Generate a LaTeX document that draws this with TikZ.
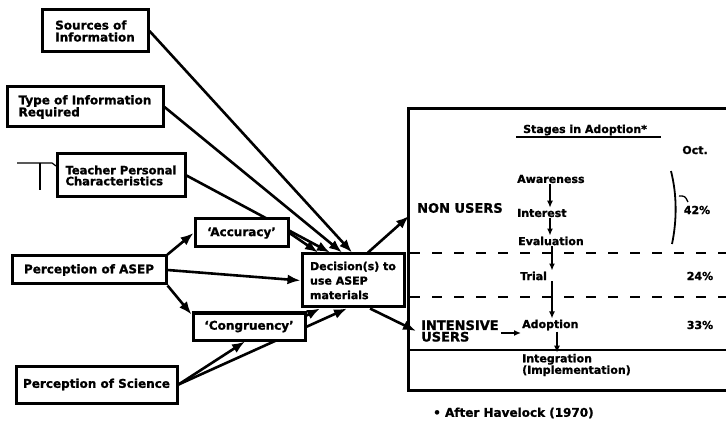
\documentclass[tikz,border=0pt]{standalone}
\usepackage{fontspec}
\setmainfont{DejaVu Sans}[BoldFeatures={FakeBold=1.2}]
\usetikzlibrary{arrows.meta,backgrounds}
\begin{document}
\begin{tikzpicture}[x=1pt,y=-1pt,
  box/.style={draw,line width=3pt,fill=white,inner sep=0pt,align=left,
    font=\bfseries\fontsize{12}{12}\selectfont},
  conn/.style={line width=2.6pt,-{Latex[length=13pt,width=10pt]}},
  sarr/.style={line width=1.8pt,-{Latex[length=7pt,width=6pt]},shorten <=1pt,shorten >=1pt},
  stg/.style={font=\bfseries\fontsize{11}{11.5}\selectfont,anchor=west,inner sep=0pt,align=left},
  grp/.style={font=\bfseries\fontsize{13}{11.5}\selectfont,anchor=west,inner sep=0pt,align=left},
  pct/.style={font=\bfseries\fontsize{11}{11}\selectfont,inner sep=0pt},
  frame/.style={line width=3pt},
  sep/.style={line width=2.8pt,dash pattern=on 10pt off 12pt},
]
\useasboundingbox (0,0) rectangle (726,422);

% left boxes
\node[box,minimum width=106pt,minimum height=42pt] (src) at (95,31) {Sources of\\Information};
\node[box,minimum width=156pt,minimum height=40pt] (typ) at (85,107) {Type of Information\\Required};
\node[box,minimum width=128pt,minimum height=43pt,font=\bfseries\fontsize{11.5}{11}\selectfont] (tch) at (121,175.5) {Teacher Personal\\Characteristics};
\node[box,minimum width=154pt,minimum height=28pt] (pa) at (89,270) {Perception of ASEP};
\node[box,minimum width=93pt,minimum height=28pt] (acc) at (241.5,233) {`Accuracy'};
\node[box,minimum width=112pt,minimum height=27pt] (con) at (249,326.5) {`Congruency'};
\node[box,minimum width=161pt,minimum height=37pt] (ps) at (96.5,384.5) {Perception of Science};
\node[box,minimum width=102pt,minimum height=53pt,font=\bfseries\fontsize{11}{14.5}\selectfont] (dec) at (353,280.5) {Decision(s) to\\use ASEP\\materials};

% stray mark beside teacher box
\draw[line width=1.2pt] (17,163) -- (52,163) -- (56,166);
\draw[line width=1.2pt] (40,163) -- (40,190);

% right frame
\draw[frame] (726,109) -- (408,109) -- (408,390) -- (726,390);
\draw[line width=2.6pt] (408,350) -- (726,350);
\draw[sep] (410,253) -- (726,253);
\draw[sep] (410,297) -- (726,297);

\node[stg] (sh) at (523,130) {Stages in Adoption*};
\draw[line width=1.8pt] ([xshift=-7pt,yshift=-1.5pt]sh.south west) -- ++(145,0);
\node[pct] (oct) at (695,150) {Oct.};
\node[stg] (aw) at (517,179) {Awareness};
\node[stg] (in) at (517,213) {Interest};
\node[stg] (ev) at (518,241) {Evaluation};
\node[stg] (tr) at (520,276) {Trial};
\node[stg] (ad) at (522,325) {Adoption};
\node[stg] (ig) at (522,365) {Integration\\(Implementation)};
\node[grp] (nu) at (417,208) {NON USERS};
\node[grp] (iu) at (421,331) {INTENSIVE\\USERS};
\node[pct] (p42) at (697,210) {42\%};
\node[pct] (p24) at (700,276) {24\%};
\node[pct] (p33) at (700,325) {33\%};
\node[stg,font=\bfseries\fontsize{12}{11}\selectfont] (hav) at (433,413) {• After Havelock (1970)};

% brace
\draw[line width=1.8pt] (671,171) .. controls (677,195) and (677,220) .. (672,244);
\draw[line width=1.3pt] (679,196) .. controls (685,196) .. (688,202);

% stage arrows
\draw[sarr] (550,0 |- aw.south) -- (550,0 |- in.north);
\draw[sarr] (550,0 |- in.south) -- (550,0 |- ev.north);
\draw[sarr] (552,0 |- ev.south) -- (552,0 |- tr.north);
\draw[sarr] (552,0 |- tr.south) -- (552,0 |- ad.north);
\draw[sarr] (557,0 |- ad.south) -- (557,0 |- ig.north);
\draw[sarr] ([xshift=1pt,yshift=-2pt]iu.east) -- ([yshift=-2pt]ad.west |- iu.east);

% connectors
\begin{scope}[on background layer]
\draw[conn] (src.east) -- ([xshift=-1pt]dec.north);
\draw[conn] (typ.east) -- ([xshift=-11pt]dec.north);
\draw[conn] (tch.east) -- ([xshift=-23pt]dec.north);
\draw[conn] (acc.east) -- ([xshift=-35pt]dec.north);
\draw[conn] (pa.north east) -- (acc.west);
\draw[conn] (pa.east) -- (dec.west);
\draw[conn] (pa.south east) -- ([yshift=-3pt]con.north west);
\draw[conn] ([yshift=-4pt]con.north east) -- ([xshift=-33pt]dec.south);
\draw[conn] (ps.east) -- ([xshift=-4pt]con.south);
\draw[conn] (ps.east) -- ([xshift=-6pt]dec.south);
\draw[conn] ([xshift=15pt]dec.north) -- ([xshift=-8pt,yshift=-8pt]nu.west);
\draw[conn] ([xshift=17pt]dec.south) -- ([xshift=-5pt]iu.west);
\end{scope}
\end{tikzpicture}
\end{document}
